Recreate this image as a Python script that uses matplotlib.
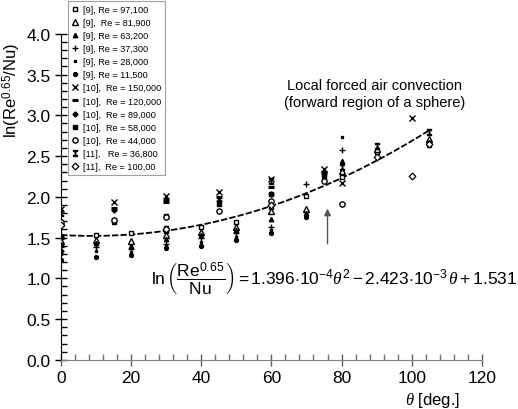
import matplotlib
matplotlib.use("Agg")
import matplotlib.pyplot as plt
import numpy as np
from matplotlib.ticker import MultipleLocator

plt.rcParams["font.family"] = ["Liberation Sans", "DejaVu Sans"]
plt.rcParams["mathtext.fontset"] = "custom"
plt.rcParams["mathtext.rm"] = "Liberation Sans"
plt.rcParams["mathtext.it"] = "Liberation Serif:italic"

# data: theta [deg] and ln(Re^0.65/Nu) per source
th_9_97100 = [0, 10, 20, 30, 40, 50, 60, 70, 80, 90, 105]
ln_9_97100 = [1.52, 1.53, 1.55, 1.58, 1.63, 1.69, 1.88, 2.01, 2.24, 2.55, 2.63]
th_9_81900 = [0, 10, 20, 30, 40, 50, 60, 70, 80, 90, 105]
ln_9_81900 = [1.46, 1.47, 1.46, 1.53, 1.57, 1.63, 1.82, 1.85, 2.32, 2.59, 2.71]
th_9_63200 = [0, 10, 20, 30, 40, 50, 60, 70, 80, 105]
ln_9_63200 = [1.42, 1.43, 1.40, 1.48, 1.53, 1.59, 1.73, 1.80, 2.44, 2.67]
th_9_37300 = [0, 10, 20, 30, 40, 50, 60, 70, 80]
ln_9_37300 = [1.38, 1.38, 1.36, 1.42, 1.49, 1.55, 1.63, 2.16, 2.57]
th_9_28000 = [0, 10, 20, 30, 40, 50, 60, 70, 80]
ln_9_28000 = [1.30, 1.34, 1.32, 1.40, 1.44, 1.51, 1.59, 1.77, 2.74]
th_9_11500 = [0, 10, 20, 30, 40, 50, 60, 70]
ln_9_11500 = [1.22, 1.26, 1.28, 1.37, 1.40, 1.47, 1.55, 1.75]
th_10_150000 = [0, 15, 30, 45, 60, 75, 80, 100]
ln_10_150000 = [1.85, 1.94, 2.01, 2.06, 2.22, 2.34, 2.17, 2.97]
th_10_120000 = [0, 15, 30, 45, 60, 75]
ln_10_120000 = [1.50, 1.86, 1.94, 2.00, 2.12, 2.31]
th_10_89000 = [0, 15, 30, 45, 60, 75]
ln_10_89000 = [1.34, 1.84, 1.96, 1.95, 2.04, 2.28]
th_10_58000 = [0, 15, 30, 45, 60, 75]
ln_10_58000 = [1.51, 1.69, 1.76, 1.91, 2.04, 2.24]
th_10_44000 = [0, 15, 30, 45, 60, 75, 80]
ln_10_44000 = [1.69, 1.71, 1.75, 1.83, 1.95, 2.20, 1.91]
th_11_36800 = [0, 30, 60, 80, 90, 105]
ln_11_36800 = [1.80, 1.60, 2.20, 2.36, 2.62, 2.79]
th_11_10000 = [0, 30, 60, 90, 100, 105]
ln_11_10000 = [1.65, 1.60, 1.90, 2.49, 2.26, 2.65]

labels = [
    "[9], Re = 97,100", "[9],  Re = 81,900", "[9], Re = 63,200",
    "[9], Re = 37,300", "[9], Re = 28,000", "[9], Re = 11,500",
    "[10],  Re = 150,000", "[10],  Re = 120,000", "[10],  Re = 89,000",
    "[10],  Re = 58,000", "[10],  Re = 44,000", "[11],   Re = 36,800",
    "[11],  Re = 100,00",
]

# correlation shown on the chart: c2*theta^2 + c1*theta + c0
fit_coeffs = [1.396e-4, -2.423e-3, 1.531]
fit_range = [0, 105]

series = [
    (th_9_97100, ln_9_97100, dict(marker="s", mfc="white", ms=3.5)),
    (th_9_81900, ln_9_81900, dict(marker="^", mfc="white", ms=3.8, mew=1.0)),
    (th_9_63200, ln_9_63200, dict(marker="^", mfc="black", ms=3.2)),
    (th_9_37300, ln_9_37300, dict(marker="+", ms=4, mew=1.0)),
    (th_9_28000, ln_9_28000, dict(marker="s", mfc="black", ms=1.8)),
    (th_9_11500, ln_9_11500, dict(marker="o", mfc="black", ms=2.8)),
    (th_10_150000, ln_10_150000, dict(marker="x", ms=4, mew=1.0)),
    (th_10_120000, ln_10_120000, dict(marker="_", ms=4, mew=2.2)),
    (th_10_89000, ln_10_89000, dict(marker="D", mfc="black", ms=2.6)),
    (th_10_58000, ln_10_58000, dict(marker="s", mfc="black", ms=3.2)),
    (th_10_44000, ln_10_44000, dict(marker="o", mfc="white", ms=3.8, mew=1.0)),
    (th_11_36800, ln_11_36800, dict(marker="$\\mathtt{I}$", ms=4.5)),
    (th_11_10000, ln_11_10000, dict(marker="D", mfc="white", ms=3.4, mew=0.9)),
]

fig = plt.figure(figsize=(5.18, 4.10), dpi=100)
ax = fig.add_axes([0.118, 0.12, 0.812, 0.795])

t = np.linspace(fit_range[0], fit_range[1], 200)
ax.plot(t, np.polyval(fit_coeffs, t), color="black", lw=1.3,
        dashes=(3.5, 1.2), zorder=1)

handles = []
for th, ln, style in series:
    h, = ax.plot(th, ln, ls="none", color="black", mec="black", zorder=3,
                 **style)
    handles.append(h)

ax.set_xlim(0, 120)
ax.set_ylim(0, 4.0)
ax.spines["top"].set_visible(False)
ax.spines["right"].set_visible(False)
ax.spines["bottom"].set_color("#808080")
ax.xaxis.set_major_locator(MultipleLocator(20))
ax.xaxis.set_minor_locator(MultipleLocator(4))
ax.yaxis.set_major_locator(MultipleLocator(0.5))
ax.yaxis.set_minor_locator(MultipleLocator(0.1))
ax.yaxis.set_major_formatter(plt.FormatStrFormatter("%.1f"))
ax.tick_params(axis="both", which="major", direction="inout", length=8,
               width=1.0, labelsize=12.5, colors="black")
ax.tick_params(axis="x", which="major", color="#606060", pad=3)
ax.tick_params(axis="both", which="minor", direction="in", length=4,
               width=1.0)
ax.tick_params(axis="x", which="minor", color="#707070")

ax.set_ylabel("ln(Re$^{0.65}$/Nu)", fontsize=12)
ax.yaxis.set_label_coords(-0.09, 0.83)
ax.set_xlabel("$\\theta$ [deg.]", fontsize=12)
ax.xaxis.set_label_coords(0.884, -0.094)

ax.text(89.5, 3.27, "Local forced air convection\n(forward region of a sphere)",
        fontsize=10.5, ha="center", va="center", linespacing=1.25)

ax.text(25.5, 1.0,
        "$\\ln\\left(\\dfrac{\\mathrm{Re}^{0.65}}{\\mathrm{Nu}}\\right)"
        " = 1.396{\\cdot}10^{-4}\\theta^2 - 2.423{\\cdot}10^{-3}\\,\\theta"
        " + 1.531$",
        fontsize=12.5, ha="left", va="center")

ax.annotate("", xy=(76, 1.89), xytext=(76, 1.39),
            arrowprops=dict(arrowstyle="-|>", color="#555555", lw=1.0,
                            mutation_scale=10))

leg = fig.legend(handles, labels, loc="upper left",
                 bbox_to_anchor=(0.131, 0.995), fontsize=6.6,
                 frameon=True, fancybox=False, edgecolor="#888888",
                 borderaxespad=0, handlelength=0.8, handletextpad=0.5,
                 labelspacing=0.45, borderpad=0.4, numpoints=1)
leg.get_frame().set_linewidth(0.8)

fig.savefig("out.png", dpi=100)
